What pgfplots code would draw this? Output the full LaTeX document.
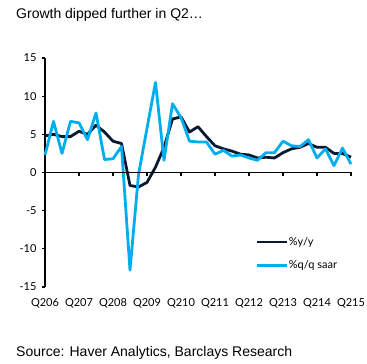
\documentclass[border=0pt]{standalone}
\usepackage{fontspec}
\setmainfont{Liberation Sans}
\newfontfamily\tickfont{Lato}
\usepackage{pgfplots}
\pgfplotsset{compat=1.18}
\definecolor{barnavy}{HTML}{0B1A33}
\definecolor{barcyan}{HTML}{00AEEF}
\pgfplotstableread{
i yy
0 4.8
1 5.0
2 4.7
3 4.7
4 5.4
5 5.0
6 6.2
7 5.3
8 4.1
9 3.8
10 -1.7
11 -1.9
12 -1.3
13 0.7
14 3.3
15 7.0
16 7.3
17 5.3
18 6.0
19 4.7
20 3.5
21 3.1
22 2.8
23 2.4
24 2.3
25 1.9
26 2.0
27 1.9
28 2.6
29 3.1
30 3.3
31 3.8
32 3.3
33 3.3
34 2.5
35 2.5
36 2.0
}\yoy
\pgfplotstableread{
i qq
0 2.3
1 6.7
2 2.5
3 6.7
4 6.5
5 4.3
6 7.8
7 1.7
8 1.8
9 3.4
10 -12.8
11 -0.3
12 5.8
13 11.8
14 1.6
15 9.0
16 7.2
17 4.1
18 4.0
19 4.0
20 2.4
21 2.9
22 2.15
23 2.3
24 1.9
25 1.6
26 2.6
27 2.6
28 4.1
29 3.5
30 3.4
31 4.3
32 1.9
33 3.1
34 0.9
35 3.2
36 1.1
}\qoq
\begin{document}
\begin{tikzpicture}[x=1bp,y=1bp]
\useasboundingbox (0,0) rectangle (367,364);
\node[anchor=west, inner sep=0, font=\fontsize{14bp}{16bp}\selectfont] at (16,349) {Growth dipped further in Q2…};
\node[anchor=west, inner sep=0, font=\fontsize{14bp}{16bp}\selectfont] at (16,11) {Source: Haver Analytics, Barclays Research};
\begin{axis}[
  at={(45bp,77bp)}, anchor=south west,
  scale only axis, width=306bp, height=229bp,
  xmin=0, xmax=36, ymin=-15, ymax=15,
  axis y line*=left, axis x line*=bottom,
  x axis line style={draw=none},
  y axis line style={line width=1.2bp, black, -},
  ytick={-15,-10,-5,0,5,10,15},
  yticklabels={-15,-10,-5,0,5,10,15},
  xtick={0,4,...,36},
  xticklabels={Q206,Q207,Q208,Q209,Q210,Q211,Q212,Q213,Q214,Q215},
  xtick style={draw=none},
  ytick style={line width=1.2bp, black},
  tick align=outside, major tick length=3bp,
  tick label style={font=\tickfont\fontsize{11bp}{13bp}\selectfont},
  xticklabel style={yshift=-5bp},
  yticklabel style={xshift=-2bp},
  /pgf/number format/assume math mode=true,
  clip=false,
  legend cell align=left,
  legend image code/.code={\draw[#1] (0bp,0bp) -- (30bp,0bp);},
  legend style={at={(0.686,0.223)}, anchor=north west, draw=none, fill=none,
    inner sep=0pt, row sep=12bp, font=\tickfont\fontsize{11bp}{13bp}\selectfont,
    nodes={inner sep=1bp}},
]
\addplot[barnavy, line width=2.8bp, line join=round] table[x=i,y=yy] {\yoy};
\addlegendentry{\%y/y}
\addplot[barcyan, line width=2.8bp, line join=round] table[x=i,y=qq] {\qoq};
\addlegendentry{\%q/q saar}
\draw[black, line width=1.2bp] (axis cs:0,0) -- (axis cs:36,0);
\pgfplotsinvokeforeach{4,8,12,16,20,24,28,32,36}{\draw[black, line width=1.2bp] (axis cs:#1,0) -- ([yshift=-4bp]axis cs:#1,0);}
\end{axis}
\end{tikzpicture}
\end{document}
